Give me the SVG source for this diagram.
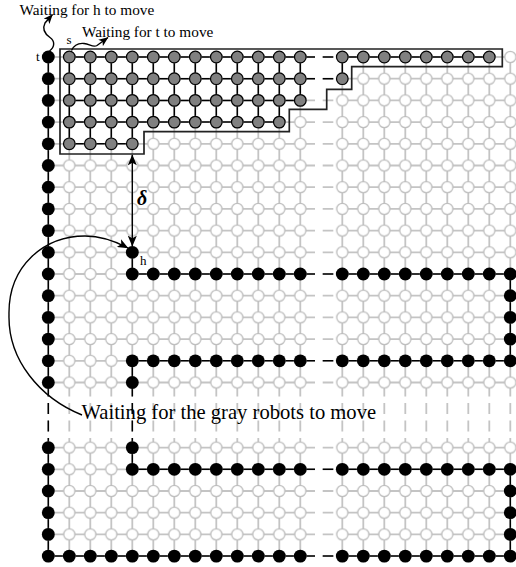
<svg xmlns="http://www.w3.org/2000/svg" width="516" height="567" viewBox="0 0 516 567">
<style>
.gl{fill:none;stroke:#c4c4c4;stroke-width:1.8}
.bl{fill:none;stroke:#000;stroke-width:1.5}
.dh{stroke-dasharray:14.7 7.7 10.6 20}
.dv{stroke-dasharray:14 6.5 11 6.5 11 6.5 20}
.lbl{font-family:"Liberation Serif","Times New Roman",serif;fill:#000}
.arr{fill:none;stroke:#000;stroke-width:1.4}
</style>
<defs>
<pattern id="wp" patternUnits="userSpaceOnUse" x="37.8" y="46.15" width="21" height="21.7">
<circle cx="10.5" cy="10.85" r="5.6" fill="#fff" stroke="#bdbdbd" stroke-width="1.3"/>
</pattern>
<circle id="b" r="6.4" fill="#000"/>
<circle id="g" r="5.8" fill="#808080" stroke="#000" stroke-width="1.2"/>
<g id="bseg">
<use href="#b" x="132.3"/><use href="#b" x="153.3"/><use href="#b" x="174.3"/><use href="#b" x="195.3"/><use href="#b" x="216.3"/><use href="#b" x="237.3"/><use href="#b" x="258.3"/><use href="#b" x="279.3"/><use href="#b" x="300.3"/>
<use href="#b" x="342.3"/><use href="#b" x="363.3"/><use href="#b" x="384.3"/><use href="#b" x="405.3"/><use href="#b" x="426.3"/><use href="#b" x="447.3"/><use href="#b" x="468.3"/><use href="#b" x="489.3"/><use href="#b" x="510.3"/>
</g>
<g id="g12">
<use href="#g" x="69.3"/><use href="#g" x="90.3"/><use href="#g" x="111.3"/><use href="#g" x="132.3"/><use href="#g" x="153.3"/><use href="#g" x="174.3"/><use href="#g" x="195.3"/><use href="#g" x="216.3"/><use href="#g" x="237.3"/><use href="#g" x="258.3"/><use href="#g" x="279.3"/><use href="#g" x="300.3"/>
</g>
<marker id="ah" viewBox="0 0 12 10" refX="11.5" refY="5" markerWidth="12" markerHeight="9" markerUnits="userSpaceOnUse" orient="auto-start-reverse">
<path d="M0,0 L12,5 L0,10 L3,5 z" fill="#000"/>
</marker>
<marker id="ahs" viewBox="0 0 12 10" refX="11.5" refY="5" markerWidth="10" markerHeight="8" markerUnits="userSpaceOnUse" orient="auto">
<path d="M0,0 L12,5 L0,10 L3,5 z" fill="#000"/>
</marker>
</defs>

<g id="connectors">
<path class="gl" d="M48.3 57H300.3M342.3 57H510.3M48.3 78.7H300.3M342.3 78.7H510.3M48.3 100.4H300.3M342.3 100.4H510.3M48.3 122.1H300.3M342.3 122.1H510.3M48.3 143.8H300.3M342.3 143.8H510.3M48.3 165.5H300.3M342.3 165.5H510.3M48.3 187.2H300.3M342.3 187.2H510.3M48.3 208.9H300.3M342.3 208.9H510.3M48.3 230.6H300.3M342.3 230.6H510.3M48.3 252.3H300.3M342.3 252.3H510.3M48.3 274H300.3M342.3 274H510.3M48.3 295.7H300.3M342.3 295.7H510.3M48.3 317.4H300.3M342.3 317.4H510.3M48.3 339.1H300.3M342.3 339.1H510.3M48.3 360.8H300.3M342.3 360.8H510.3M48.3 382.5H300.3M342.3 382.5H510.3M48.3 447.6H300.3M342.3 447.6H510.3M48.3 469.3H300.3M342.3 469.3H510.3M48.3 491H300.3M342.3 491H510.3M48.3 512.7H300.3M342.3 512.7H510.3M48.3 534.4H300.3M342.3 534.4H510.3M48.3 556.1H300.3M342.3 556.1H510.3"/>
<path class="gl" d="M48.3 57V382.5M48.3 447.6V556.1M69.3 57V382.5M69.3 447.6V556.1M90.3 57V382.5M90.3 447.6V556.1M111.3 57V382.5M111.3 447.6V556.1M132.3 57V382.5M132.3 447.6V556.1M153.3 57V382.5M153.3 447.6V556.1M174.3 57V382.5M174.3 447.6V556.1M195.3 57V382.5M195.3 447.6V556.1M216.3 57V382.5M216.3 447.6V556.1M237.3 57V382.5M237.3 447.6V556.1M258.3 57V382.5M258.3 447.6V556.1M279.3 57V382.5M279.3 447.6V556.1M300.3 57V382.5M300.3 447.6V556.1M342.3 57V382.5M342.3 447.6V556.1M363.3 57V382.5M363.3 447.6V556.1M384.3 57V382.5M384.3 447.6V556.1M405.3 57V382.5M405.3 447.6V556.1M426.3 57V382.5M426.3 447.6V556.1M447.3 57V382.5M447.3 447.6V556.1M468.3 57V382.5M468.3 447.6V556.1M489.3 57V382.5M489.3 447.6V556.1M510.3 57V382.5M510.3 447.6V556.1"/>
<path class="gl dh" d="M300.3 57h42M300.3 78.7h42M300.3 100.4h42M300.3 122.1h42M300.3 143.8h42M300.3 165.5h42M300.3 187.2h42M300.3 208.9h42M300.3 230.6h42M300.3 252.3h42M300.3 274h42M300.3 295.7h42M300.3 317.4h42M300.3 339.1h42M300.3 360.8h42M300.3 382.5h42M300.3 447.6h42M300.3 469.3h42M300.3 491h42M300.3 512.7h42M300.3 534.4h42M300.3 556.1h42"/>
<path class="gl dv" d="M48.3 382.5v65.1M69.3 382.5v65.1M90.3 382.5v65.1M111.3 382.5v65.1M132.3 382.5v65.1M153.3 382.5v65.1M174.3 382.5v65.1M195.3 382.5v65.1M216.3 382.5v65.1M237.3 382.5v65.1M258.3 382.5v65.1M279.3 382.5v65.1M300.3 382.5v65.1M342.3 382.5v65.1M363.3 382.5v65.1M384.3 382.5v65.1M405.3 382.5v65.1M426.3 382.5v65.1M447.3 382.5v65.1M468.3 382.5v65.1M489.3 382.5v65.1M510.3 382.5v65.1"/>
<path class="bl" d="M69.3 57H300.3M342.3 57H489.3M69.3 78.7H300.3M69.3 100.4H300.3M69.3 122.1H279.3M69.3 143.8H132.3M69.3 57V143.8M90.3 57V143.8M111.3 57V143.8M132.3 57V143.8M153.3 57V122.1M174.3 57V122.1M195.3 57V122.1M216.3 57V122.1M237.3 57V122.1M258.3 57V122.1M279.3 57V122.1M300.3 57V100.4M342.3 57V78.7"/>
<path class="bl" d="M48.3 57V382.5M48.3 447.6V556.1H300.3M342.3 556.1H510.3V469.3H342.3M300.3 469.3H132.3V447.6M132.3 382.5V360.8H300.3M342.3 360.8H510.3V274H342.3M300.3 274H132.3V252.3"/>
<path class="bl dh" d="M300.3 57h42M300.3 78.7h42M300.3 274h42M300.3 360.8h42M300.3 469.3h42M300.3 556.1h42"/>
<path class="bl dv" d="M48.3 382.5v65.1M132.3 382.5v65.1"/>
</g>

<g id="robots-white">
<rect x="37.8" y="46.15" width="273" height="347.2" fill="url(#wp)"/>
<rect x="331.8" y="46.15" width="189" height="347.2" fill="url(#wp)"/>
<rect x="37.8" y="436.75" width="273" height="130.2" fill="url(#wp)"/>
<rect x="331.8" y="436.75" width="189" height="130.2" fill="url(#wp)"/>
</g>

<g id="robots-gray">
<use href="#g12" y="57"/><use href="#g12" y="78.7"/><use href="#g12" y="100.4"/>
<use href="#g" x="342.3" y="57"/><use href="#g" x="363.3" y="57"/><use href="#g" x="384.3" y="57"/><use href="#g" x="405.3" y="57"/><use href="#g" x="426.3" y="57"/><use href="#g" x="447.3" y="57"/><use href="#g" x="468.3" y="57"/><use href="#g" x="489.3" y="57"/>
<use href="#g" x="342.3" y="78.7"/>
<use href="#g" x="69.3" y="122.1"/><use href="#g" x="90.3" y="122.1"/><use href="#g" x="111.3" y="122.1"/><use href="#g" x="132.3" y="122.1"/><use href="#g" x="153.3" y="122.1"/><use href="#g" x="174.3" y="122.1"/><use href="#g" x="195.3" y="122.1"/><use href="#g" x="216.3" y="122.1"/><use href="#g" x="237.3" y="122.1"/><use href="#g" x="258.3" y="122.1"/><use href="#g" x="279.3" y="122.1"/>
<use href="#g" x="69.3" y="143.8"/><use href="#g" x="90.3" y="143.8"/><use href="#g" x="111.3" y="143.8"/><use href="#g" x="132.3" y="143.8"/>
</g>

<g id="robots-black">
<use href="#b" x="48.3" y="57"/><use href="#b" x="48.3" y="78.7"/><use href="#b" x="48.3" y="100.4"/><use href="#b" x="48.3" y="122.1"/><use href="#b" x="48.3" y="143.8"/><use href="#b" x="48.3" y="165.5"/><use href="#b" x="48.3" y="187.2"/><use href="#b" x="48.3" y="208.9"/><use href="#b" x="48.3" y="230.6"/><use href="#b" x="48.3" y="252.3"/><use href="#b" x="48.3" y="274"/><use href="#b" x="48.3" y="295.7"/><use href="#b" x="48.3" y="317.4"/><use href="#b" x="48.3" y="339.1"/><use href="#b" x="48.3" y="360.8"/><use href="#b" x="48.3" y="382.5"/><use href="#b" x="48.3" y="447.6"/><use href="#b" x="48.3" y="469.3"/><use href="#b" x="48.3" y="491"/><use href="#b" x="48.3" y="512.7"/><use href="#b" x="48.3" y="534.4"/><use href="#b" x="48.3" y="556.1"/>
<use href="#bseg" y="274"/><use href="#bseg" y="360.8"/><use href="#bseg" y="469.3"/><use href="#bseg" y="556.1"/>
<use href="#b" x="69.3" y="556.1"/><use href="#b" x="90.3" y="556.1"/><use href="#b" x="111.3" y="556.1"/>
<use href="#b" x="510.3" y="295.7"/><use href="#b" x="510.3" y="317.4"/><use href="#b" x="510.3" y="339.1"/>
<use href="#b" x="510.3" y="491"/><use href="#b" x="510.3" y="512.7"/><use href="#b" x="510.3" y="534.4"/>
<use href="#b" x="132.3" y="382.5"/><use href="#b" x="132.3" y="447.6"/>
</g>
<g id="node-h"><use href="#b" x="132.3" y="252.3"/></g>

<g id="gray-region">
<path d="M60 49H502.3V66.7H351.7V89.3H326.7V109.3H289.3V131.7H144V154H60Z" fill="none" stroke="#222" stroke-width="1.7"/>
</g>

<g id="annotations">
<path class="arr" d="M132.3 155V246" marker-start="url(#ah)" marker-end="url(#ah)"/>
<path class="arr" d="M82 415C40 398 8 360 9 315C8 265 45 236 85 236C100 236 115 241 128 248" marker-end="url(#ah)"/>
<path class="arr" d="M49.5 51C55 47 55 41 50 37.5C45 34 42 29 45 23L52.5 14.5" marker-end="url(#ahs)"/>
<path class="arr" d="M71.5 50.5C74 45 79 43 84 43.5C90 44 93 48 97 45.5L108 37.5" marker-end="url(#ahs)"/>
</g>

<g id="labels">
<text class="lbl" x="19.5" y="14.5" font-size="15.3">Waiting for h to move</text>
<text class="lbl" x="82" y="36.5" font-size="15.3">Waiting for t to move</text>
<text class="lbl" x="66.5" y="43.5" font-size="13">s</text>
<text class="lbl" x="36" y="60.5" font-size="13">t</text>
<text class="lbl" x="140" y="265" font-size="13">h</text>
<text class="lbl" x="137" y="205" font-size="20" font-style="italic" font-weight="bold">δ</text>
<text class="lbl" x="81.5" y="419" font-size="20.6">Waiting for the gray robots to move</text>
</g>
</svg>
